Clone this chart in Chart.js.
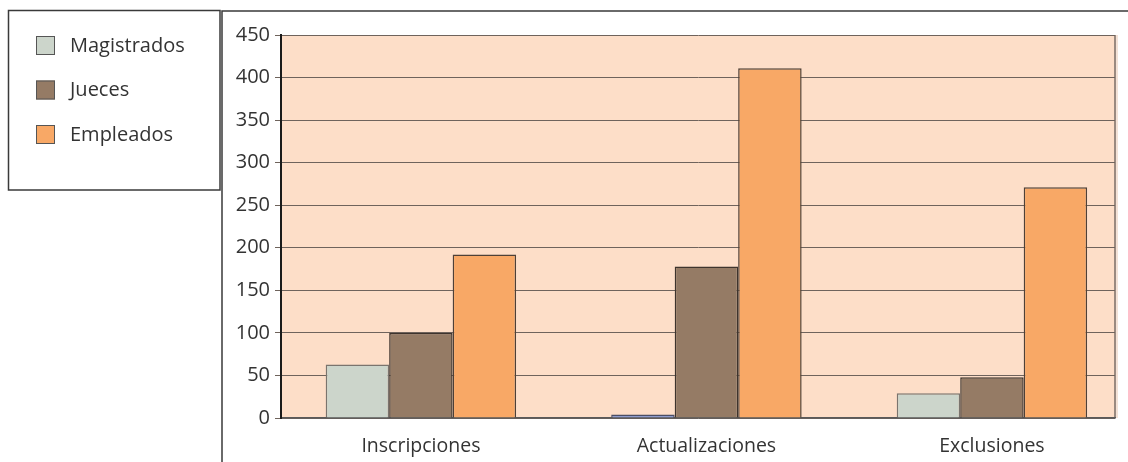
<!DOCTYPE html>
<html>
<head>
<meta charset="utf-8">
<script src="https://cdn.jsdelivr.net/npm/chart.js@4/dist/chart.umd.min.js"></script>
<style>
  html, body { margin: 0; padding: 0; background: #fff; }
  #wrap { position: relative; width: 1128px; height: 462px; }
</style>
</head>
<body>
<div id="wrap"><canvas id="c" width="1128" height="462"></canvas></div>
<script>
// Movimientos del registro por tipo de trámite
const categories = ['Inscripciones', 'Actualizaciones', 'Exclusiones'];
const seriesNames = ['Magistrados', 'Jueces', 'Empleados'];
const magistrados = [63, 4, 29];
const jueces = [100, 178, 48];
const empleados = [192, 411, 271];
const yMax = 450;
const yStep = 50;

const fillMagistrados = '#ccd5cb';
const fillJueces = '#957b65';
const fillEmpleados = '#f8a866';
const fillMagistradosAct = '#8e9bcd';
const textColor = '#333333';
const fontFamily = '"Open Sans", "Noto Sans", sans-serif';

function points(values) {
  return values.map((v, i) => ({ x: i, y: v }));
}

const frame = {
  id: 'frame',
  beforeDraw(chart) {
    const ctx = chart.ctx;
    const a = chart.chartArea;
    ctx.save();
    ctx.fillStyle = '#ffffff';
    ctx.fillRect(0, 0, chart.width, chart.height);
    // plot background
    ctx.fillStyle = '#fddec8';
    ctx.fillRect(a.left, a.top, a.right - a.left, a.bottom - a.top);
    // right edge of the plot
    ctx.fillStyle = '#f3e2d7';
    ctx.fillRect(a.right, a.top, 3, a.bottom - a.top);
    ctx.strokeStyle = '#9a8a80';
    ctx.lineWidth = 2;
    ctx.beginPath();
    ctx.moveTo(a.right, a.top);
    ctx.lineTo(a.right, a.bottom);
    ctx.stroke();
    // legend box
    ctx.strokeStyle = '#3a3a3a';
    ctx.lineWidth = 1.5;
    ctx.strokeRect(8.5, 10.5, 211.5, 179.5);
    // chart panel frame (top and left)
    ctx.beginPath();
    ctx.moveTo(222, 462);
    ctx.lineTo(222, 11);
    ctx.lineTo(1128, 11);
    ctx.stroke();
    ctx.restore();
  },
  afterDraw(chart) {
    const ctx = chart.ctx;
    ctx.save();
    ctx.font = '20px ' + fontFamily;
    ctx.textBaseline = 'middle';
    ctx.textAlign = 'left';
    chart.data.datasets.forEach((ds, i) => {
      const y = 36 + i * 44.5;
      const fill = Array.isArray(ds.backgroundColor) ? ds.backgroundColor[0] : ds.backgroundColor;
      ctx.fillStyle = fill;
      ctx.fillRect(36, y, 19, 19);
      ctx.strokeStyle = '#555555';
      ctx.lineWidth = 1;
      ctx.strokeRect(36.5, y + 0.5, 18, 18);
      ctx.fillStyle = textColor;
      ctx.fillText(ds.label, 70, y + 10);
    });
    ctx.restore();
  }
};

new Chart(document.getElementById('c'), {
  type: 'bar',
  data: {
    datasets: [
      {
        label: seriesNames[0],
        data: points(magistrados),
        backgroundColor: [fillMagistrados, fillMagistradosAct, fillMagistrados],
        borderColor: ['#7a746e', '#4a4e66', '#7a746e'],
        borderWidth: 1.5
      },
      {
        label: seriesNames[1],
        data: points(jueces),
        backgroundColor: fillJueces,
        borderColor: '#3e342d',
        borderWidth: 1.5
      },
      {
        label: seriesNames[2],
        data: points(empleados),
        backgroundColor: fillEmpleados,
        borderColor: '#4e4037',
        borderWidth: 1.5
      }
    ]
  },
  options: {
    responsive: false,
    animation: false,
    events: [],
    layout: { padding: { left: 222, right: 13, top: 35, bottom: 0 } },
    datasets: { bar: { barPercentage: 1, categoryPercentage: 0.667 } },
    plugins: { legend: { display: false }, tooltip: { enabled: false } },
    scales: {
      x: {
        type: 'linear',
        offset: false,
        min: -0.49,
        max: 2.431,
        afterBuildTicks(scale) {
          scale.ticks = categories.map((_, i) => ({ value: i }));
        },
        afterFit(scale) { scale.height = 44; },
        grid: { display: false, drawTicks: false },
        border: { display: true, color: '#5a5a5a', width: 1.5 },
        ticks: {
          color: textColor,
          font: { family: fontFamily, size: 19.5 },
          padding: 17,
          maxRotation: 0,
          autoSkip: false,
          callback: (v) => categories[v]
        }
      },
      y: {
        min: 0,
        max: yMax,
        afterFit(scale) { scale.width = 59; },
        grid: {
          color: '#6f635c',
          lineWidth: 1,
          tickLength: 6,
          drawOnChartArea: true
        },
        border: { display: true, color: '#1a1a1a', width: 2 },
        ticks: {
          stepSize: yStep,
          color: textColor,
          font: { family: fontFamily, size: 20 },
          padding: 5
        }
      }
    }
  },
  plugins: [frame]
});
</script>
</body>
</html>
